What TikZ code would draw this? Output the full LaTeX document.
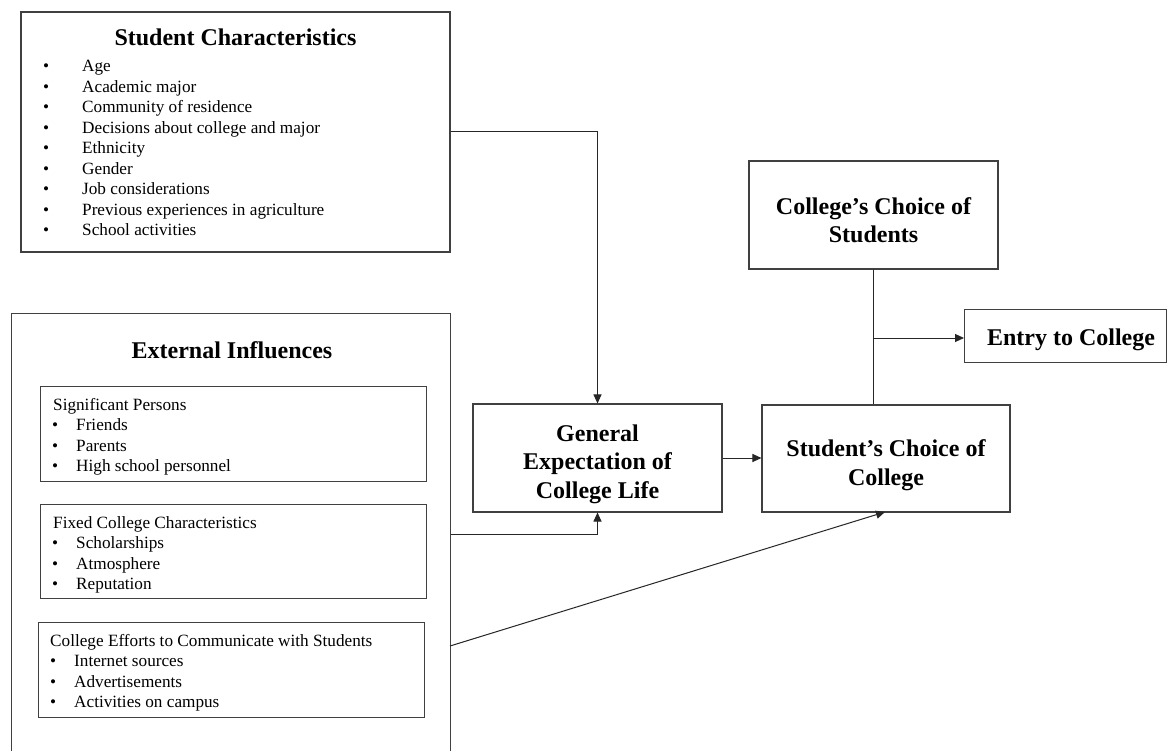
\documentclass[tikz,border=0pt]{standalone}
\usepackage{fontspec}
\setmainfont{Liberation Serif}
\usetikzlibrary{arrows.meta}
\begin{document}
\begin{tikzpicture}[x=1pt,y=-1pt,
  box/.style={draw=black!75, line width=1.1pt, inner sep=0pt},
  ttl/.style={font=\fontsize{24}{28}\selectfont\bfseries, inner sep=0pt, anchor=base},
  btl/.style={font=\fontsize{24}{28.5}\selectfont\bfseries, align=center, inner sep=0pt},
  itm/.style={font=\fontsize{17.2}{20.5}\selectfont, anchor=base west, inner sep=0pt},
  conn/.style={line width=1pt, draw=black!85},
  arr/.style={conn, -{Triangle[length=9pt,width=8pt]}}]
\clip (0,0) rectangle (1167,751);
\fill[white] (0,0) rectangle (1167,751);

% Student characteristics
\node[box, minimum width=429pt, minimum height=240pt] (sc) at (235.5,132) {};
\node[ttl] (sct) at (235.5,46) {Student Characteristics};
\foreach \t [count=\i from 0] in {Age,Academic major,Community of residence,Decisions about college and major,Ethnicity,Gender,Job considerations,Previous experiences in agriculture,School activities}{
  \node[itm] (scb\i) at (43,72+20.5*\i) {•};
  \node[itm] (sci\i) at (82,72+20.5*\i) {\t};
}

% External influences
\node[box, minimum width=439pt, minimum height=480pt, anchor=north west] (ei) at (11,313) {};
\node[ttl] (eit) at (232,358) {External Influences};

\node[box, minimum width=386pt, minimum height=95pt, anchor=north west] (sp) at (40,386) {};
\node[itm] (spt) at (53,410) {Significant Persons};
\foreach \t [count=\i from 0] in {Friends,Parents,High school personnel}{
  \node[itm] (spb\i) at (52,430.5+20.5*\i) {•};
  \node[itm] (spi\i) at (76,430.5+20.5*\i) {\t};
}

\node[box, minimum width=386pt, minimum height=94pt, anchor=north west] (fc) at (40,504) {};
\node[itm] (fct) at (53,528) {Fixed College Characteristics};
\foreach \t [count=\i from 0] in {Scholarships,Atmosphere,Reputation}{
  \node[itm] (fcb\i) at (52,548.5+20.5*\i) {•};
  \node[itm] (fci\i) at (76,548.5+20.5*\i) {\t};
}

\node[box, minimum width=386pt, minimum height=95pt, anchor=north west] (ce) at (38,622) {};
\node[itm] (cet) at (50,646) {College Efforts to Communicate with Students};
\foreach \t [count=\i from 0] in {Internet sources,Advertisements,Activities on campus}{
  \node[itm] (ceb\i) at (50,666.5+20.5*\i) {•};
  \node[itm] (cei\i) at (74,666.5+20.5*\i) {\t};
}

% Right side
\node[box, minimum width=249pt, minimum height=108pt] (ge) at (597.5,458) {};
\node[btl] (get) at (597.5,464) {General\\Expectation of\\College Life};

\node[box, minimum width=248pt, minimum height=107pt] (scc) at (886,458.5) {};
\node[btl] (scct) at (886,465) {Student’s Choice of\\College};

\node[box, minimum width=249pt, minimum height=108pt] (ccs) at (873.5,215) {};
\node[btl] (ccst) at (873.5,220) {College’s Choice of\\Students};

\node[box, minimum width=202pt, minimum height=53pt, anchor=north west] (ent) at (964,309) {};
\node[btl] (entt) at (1071,340) {Entry to College};

% connectors
\coordinate (k1) at (597.5,132);
\draw[arr] (sc.east |- k1) -- (k1) -- (ge.north);
\coordinate (k2) at (597.5,534);
\draw[arr] (ei.east |- k2) -- (k2) -- (ge.south);
\draw[arr] (ge.east) -- (scc.west |- ge.east);
\coordinate (k3) at (450,646);
\coordinate (k4) at (885,512);
\draw[arr] (k3) -- (k4);
\coordinate (j) at (873.5,338);
\draw[conn] (ccs.south) -- (ccs.south |- scc.north);
\draw[arr] (j) -- (ent.west |- j);
\end{tikzpicture}
\end{document}
